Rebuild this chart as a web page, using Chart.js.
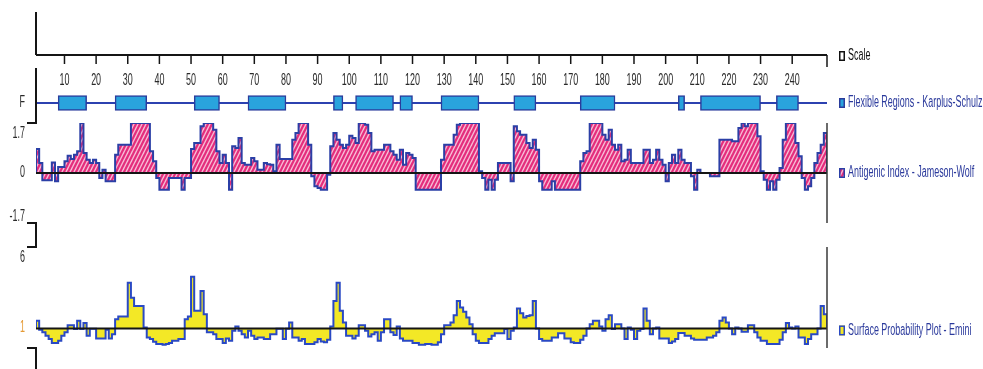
<!DOCTYPE html>
<html>
<head>
<meta charset="utf-8">
<script src="https://cdn.jsdelivr.net/npm/chart.js@4"></script>
<style>
  html, body { margin: 0; padding: 0; background: #ffffff; }
  #wrap { position: relative; width: 983px; height: 369px; overflow: hidden; }
  #wrap canvas { position: absolute; left: 0; top: 0; }
</style>
</head>
<body>
<div id="wrap">
  <canvas id="cScale" width="983" height="369"></canvas>
  <canvas id="cFlex" width="983" height="369"></canvas>
  <canvas id="cAnti" width="983" height="369"></canvas>
  <canvas id="cSurf" width="983" height="369"></canvas>
</div>
<script>
// ---- sequence data -------------------------------------------------------
const SEQ_LENGTH = 250;
const TICK_VALUES = [10, 20, 30, 40, 50, 60, 70, 80, 90, 100, 110, 120,
  130, 140, 150, 160, 170, 180, 190, 200, 210, 220, 230, 240];

// Karplus-Schulz flexible regions (first and last residue of each region)
const FLEX_START = [8, 26, 51, 68, 95, 102, 116, 129, 152, 173, 204, 211, 235];
const FLEX_END   = [16, 35, 58, 79, 97, 113, 119, 140, 158, 183, 205, 229, 241];

// Jameson-Wolf antigenic index, one value per residue
const ANTIGENIC = [
  0.82, 0.34, -0.25, -0.25, -0.25, 0.36, -0.28, 0.20, 0.20, 0.40,
  0.59, 0.48, 0.62, 0.74, 1.70, 0.68, 0.45, 0.34, 0.45, 0.34,
  -0.17, 0.11, -0.28, -0.28, -0.28, 0.62, 0.96, 0.96, 0.96, 0.96,
  1.70, 1.70, 1.70, 1.70, 1.70, 1.70, 0.74, 0.40, -0.17, -0.57,
  -0.57, -0.57, -0.17, -0.17, -0.17, -0.17, -0.57, -0.17, -0.17, 0.82,
  1.02, 1.02, 1.59, 1.70, 1.70, 1.70, 1.47, 0.74, 0.34, 0.62,
  0.34, -0.57, 0.91, 0.85, 1.19, 0.34, 0.28, 0.28, 0.51, 0.40,
  0.11, 0.11, 0.34, 0.30, 0.28, 0.06, 0.96, 0.48, 0.48, 0.48,
  0.48, 1.13, 1.36, 1.70, 1.70, 1.70, 0.96, -0.11, -0.45, -0.51,
  -0.57, -0.57, -0.06, 0.91, 1.36, 1.13, 0.96, 0.85, 0.96, 1.27,
  1.19, 1.02, 1.70, 1.70, 1.64, 1.36, 0.74, 0.79, 0.79, 0.79,
  0.96, 0.96, 0.74, 0.62, 0.45, 0.79, 0.28, 0.68, 0.62, 0.51,
  -0.57, -0.57, -0.57, -0.57, -0.57, -0.57, -0.57, -0.57, 0.45, 0.96,
  0.96, 0.96, 1.30, 1.64, 1.70, 1.70, 1.70, 1.70, 1.70, 1.70,
  0.06, -0.17, -0.57, -0.23, -0.57, -0.23, 0.34, 0.34, 0.34, 0.34,
  -0.28, 1.59, 1.42, 1.30, 1.30, 1.02, 0.85, 1.13, 0.79, -0.28,
  -0.57, -0.57, -0.57, -0.28, -0.57, -0.57, -0.57, -0.57, -0.57, -0.57,
  -0.57, -0.57, 0.40, 0.68, 0.74, 1.70, 1.70, 1.70, 1.70, 1.30,
  1.13, 1.47, 0.96, 0.79, 0.96, 0.40, 0.45, 0.79, 0.34, 0.34,
  0.34, 0.34, 0.79, 0.79, 0.34, 0.45, 0.79, 0.45, 0.28, -0.28,
  0.34, 0.62, 0.34, 0.79, 0.45, 0.34, 0.34, -0.11, -0.57, 0.11,
  0.00, 0.00, 0.00, -0.11, -0.11, -0.11, 1.13, 1.13, 1.13, 1.13,
  1.08, 1.08, 1.53, 1.70, 1.59, 1.70, 1.70, 1.70, 1.25, 0.06,
  -0.23, -0.57, -0.28, -0.57, -0.23, 0.17, 1.13, 1.70, 1.70, 1.70,
  1.02, 0.57, -0.17, -0.57, -0.45, -0.17, 0.34, 0.68, 0.96, 1.36
];

// Emini surface probability, one value per residue (threshold 1)
const SURFACE = [
  1.47, 0.92, 0.76, 0.55, 0.35, 0.11, 0.11, 0.25, 0.55, 0.76,
  1.20, 1.20, 0.96, 1.47, 0.96, 1.33, 0.55, 0.98, 0.98, 0.39,
  0.39, 0.39, 0.92, 0.39, 0.65, 1.57, 1.73, 1.73, 1.73, 3.80,
  2.89, 2.38, 2.38, 2.38, 1.06, 0.45, 0.35, 0.19, 0.04, 0.04,
  0.00, 0.04, 0.11, 0.25, 0.25, 0.35, 0.35, 1.57, 1.73, 4.17,
  2.08, 2.08, 3.30, 1.87, 0.76, 0.76, 0.65, 0.35, 0.35, 0.11,
  0.39, 0.25, 0.86, 1.12, 0.86, 0.65, 0.45, 0.86, 0.55, 0.35,
  0.45, 0.45, 0.35, 0.35, 0.65, 0.65, 0.98, 0.98, 0.35, 0.98,
  1.37, 0.45, 0.45, 0.25, 0.35, 0.04, 0.04, 0.04, 0.15, 0.35,
  0.20, 0.15, 0.30, 1.12, 2.69, 3.80, 2.08, 1.37, 0.55, 0.55,
  0.39, 0.55, 1.20, 1.20, 0.86, 0.51, 0.65, 0.76, 0.25, 0.76,
  1.57, 1.57, 0.76, 0.60, 1.12, 0.39, 0.25, 0.25, 0.25, 0.11,
  0.11, 0.00, 0.00, 0.04, 0.04, 0.00, 0.00, 0.15, 0.65, 1.20,
  1.20, 1.37, 1.81, 2.69, 2.28, 2.02, 1.67, 1.26, 0.65, 0.25,
  0.11, 0.11, 0.11, 0.35, 0.55, 0.70, 0.70, 0.70, 0.96, 0.35,
  0.86, 1.06, 2.22, 1.93, 1.67, 1.77, 1.81, 2.69, 1.00, 0.35,
  0.25, 0.25, 0.25, 0.45, 0.45, 0.70, 0.70, 0.39, 0.39, 0.15,
  0.11, 0.11, 0.30, 0.55, 1.00, 1.26, 1.47, 1.47, 1.12, 0.86,
  1.57, 1.81, 0.96, 1.26, 1.26, 1.00, 0.35, 1.06, 0.92, 0.35,
  0.86, 0.96, 2.22, 1.47, 0.65, 1.00, 1.06, 0.39, 0.39, 0.39,
  0.11, 0.20, 0.35, 0.72, 0.72, 0.55, 0.55, 0.39, 0.30, 0.30,
  0.30, 0.30, 0.45, 0.45, 0.55, 0.76, 1.47, 1.67, 1.37, 1.00,
  0.65, 1.06, 1.00, 0.80, 0.80, 1.20, 1.20, 0.76, 0.45, 0.25,
  0.25, 0.04, 0.04, 0.04, 0.04, 0.30, 0.76, 1.33, 1.06, 1.00,
  1.12, 0.45, 0.45, 0.04, 0.35, 0.65, 0.65, 1.00, 2.38, 1.87
];

const ANTI_RANGE = [-1.7, 1.7];
const SURF_RANGE = [-0.2, 6];
const SURF_THRESHOLD = 1;

// ---- page layout ---------------------------------------------------------
const W = 983, H = 369;
const PLOT_LEFT = 36, PLOT_RIGHT = 827;
const BANDS = {
  scale: { top: 12, bottom: 55 },
  flex:  { top: 95, bottom: 111 },
  anti:  { top: 123, bottom: 223 },
  surf:  { top: 247, bottom: 348 }
};
const FLEX_AXIS_TOP = 68;
const FOOT = 9;             // length of the little bracket feet on the left axis
const LEGEND_X = 839;

const COLORS = {
  axis: '#151515',
  frame: '#3a3a3a',
  label: '#2a2a2a',
  legendText: '#2b3a9c',
  flexFill: '#29a3dd',
  flexEdge: '#2a3c9c',
  track: '#2c41b0',
  antiFill: '#e42d7c',
  antiStripe: '#f7bcd6',
  antiEdge: '#2b3fa6',
  surfFill: '#f3e826',
  surfEdge: '#2a49c4',
  one: '#e59a35'
};

// condensed label text, as in the sequence-analysis printout
const FONT = '16px "Liberation Sans", Arial, sans-serif';
const SQUEEZE = 0.56;

function drawText(ctx, str, x, y, align, color) {
  ctx.save();
  ctx.translate(x, y);
  ctx.scale(SQUEEZE, 1);
  ctx.font = FONT;
  ctx.fillStyle = color;
  ctx.textAlign = align;
  ctx.textBaseline = 'middle';
  ctx.fillText(str, 0, 0);
  ctx.restore();
}

function drawPath(ctx, pts, color, width) {
  ctx.save();
  ctx.strokeStyle = color;
  ctx.lineWidth = width;
  ctx.lineCap = 'butt';
  ctx.beginPath();
  pts.forEach((p, i) => (i ? ctx.lineTo(p[0], p[1]) : ctx.moveTo(p[0], p[1])));
  ctx.stroke();
  ctx.restore();
}

function legendItem(ctx, y, label, fill, edge, textColor) {
  ctx.save();
  ctx.fillStyle = fill;
  ctx.fillRect(LEGEND_X, y - 5, 6, 10);
  ctx.strokeStyle = edge;
  ctx.lineWidth = 1.5;
  ctx.strokeRect(LEGEND_X + 0.75, y - 4.25, 4.5, 8.5);
  ctx.restore();
  drawText(ctx, label, LEGEND_X + 9, y, 'left', textColor);
}

function hatch(bg, stripe) {
  const c = document.createElement('canvas');
  c.width = 4; c.height = 8;
  const g = c.getContext('2d');
  g.fillStyle = bg;
  g.fillRect(0, 0, 4, 8);
  g.strokeStyle = stripe;
  g.lineWidth = 1.4;
  for (let k = -1; k <= 1; k++) {
    g.beginPath();
    g.moveTo(k * 4 - 4, 16);
    g.lineTo(k * 4 + 8, -8);
    g.stroke();
  }
  return g.createPattern(c, 'repeat');
}

// residue profile as a closed step outline: each value covers [n, n+1]
function stepPoints(values, base) {
  const pts = [{ x: 1, y: base }];
  values.forEach((v, i) => pts.push({ x: i + 1, y: v }));
  pts.push({ x: values.length + 1, y: values[values.length - 1] });
  pts.push({ x: values.length + 1, y: base });
  return pts;
}

function baseOptions(band, yRange) {
  return {
    responsive: false,
    animation: false,
    devicePixelRatio: 1,
    events: [],
    layout: { padding: { left: PLOT_LEFT, right: W - PLOT_RIGHT, top: band.top, bottom: H - band.bottom } },
    plugins: { legend: { display: false }, tooltip: { enabled: false } },
    scales: {
      x: { type: 'linear', min: 1, max: SEQ_LENGTH + 1, display: false, offset: false },
      y: { type: 'linear', min: yRange[0], max: yRange[1], display: false, offset: false }
    }
  };
}

// ---- residue scale ---------------------------------------------------------
new Chart(document.getElementById('cScale'), {
  type: 'line',
  data: { datasets: [] },
  options: baseOptions(BANDS.scale, [0, 1]),
  plugins: [{
    id: 'residueScale',
    afterDraw(chart) {
      const ctx = chart.ctx, a = chart.chartArea, x = chart.scales.x;
      drawPath(ctx, [[a.left, a.top], [a.left, a.bottom]], COLORS.axis, 2);
      drawPath(ctx, [[a.left, a.bottom], [a.right, a.bottom]], COLORS.axis, 2);
      TICK_VALUES.forEach(v => {
        const px = x.getPixelForValue(v);
        drawPath(ctx, [[px, a.bottom], [px, a.bottom + 9]], COLORS.axis, 1.5);
        drawText(ctx, String(v), px, a.bottom + 26, 'center', COLORS.label);
      });
      drawPath(ctx, [[a.right, a.bottom], [a.right, a.bottom + 12]], COLORS.axis, 1.5);
      legendItem(ctx, a.bottom + 1, 'Scale', '#ffffff', '#111111', '#111111');
    }
  }]
});

// ---- flexible regions ------------------------------------------------------
new Chart(document.getElementById('cFlex'), {
  type: 'bar',
  data: {
    datasets: [
      {
        type: 'bar',
        indexAxis: 'y',
        xAxisID: 'x', yAxisID: 'y',
        data: FLEX_START.map((s, i) => ({ y: 0.5, x: [s, FLEX_END[i] + 1] })),
        backgroundColor: COLORS.flexFill,
        borderColor: COLORS.flexEdge,
        borderWidth: 1.5,
        borderSkipped: false,
        barThickness: 15,
        order: 0
      },
      {
        type: 'line',
        indexAxis: 'x',
        xAxisID: 'x', yAxisID: 'y',
        data: [{ x: 1, y: 0.5 }, { x: SEQ_LENGTH + 1, y: 0.5 }],
        borderColor: COLORS.track,
        borderWidth: 2,
        pointRadius: 0,
        order: 1
      }
    ]
  },
  options: baseOptions(BANDS.flex, [0, 1]),
  plugins: [{
    id: 'flexFrame',
    afterDraw(chart) {
      const ctx = chart.ctx, a = chart.chartArea, y = chart.scales.y;
      const mid = y.getPixelForValue(0.5);
      const foot = BANDS.anti.top;
      drawPath(ctx, [[a.left, FLEX_AXIS_TOP], [a.left, foot], [a.left - FOOT, foot]], COLORS.axis, 2);
      drawText(ctx, 'F', a.left - 11, mid, 'right', COLORS.label);
      legendItem(ctx, mid, 'Flexible Regions - Karplus-Schulz', COLORS.flexFill, COLORS.flexEdge, COLORS.legendText);
    }
  }]
});

// ---- antigenic index ------------------------------------------------------
const antiCanvas = document.getElementById('cAnti');
const antiPattern = hatch(COLORS.antiFill, COLORS.antiStripe);
new Chart(antiCanvas, {
  type: 'line',
  data: {
    datasets: [{
      data: stepPoints(ANTIGENIC, 0),
      stepped: true,
      fill: 'origin',
      backgroundColor: antiPattern,
      borderColor: COLORS.antiEdge,
      borderWidth: 2,
      pointRadius: 0
    }]
  },
  options: baseOptions(BANDS.anti, ANTI_RANGE),
  plugins: [{
    id: 'antiFrame',
    afterDatasetsDraw(chart) {
      const ctx = chart.ctx, a = chart.chartArea, y = chart.scales.y;
      const zero = y.getPixelForValue(0);
      drawPath(ctx, [[a.left, zero], [a.right, zero]], COLORS.axis, 2);
    },
    afterDraw(chart) {
      const ctx = chart.ctx, a = chart.chartArea, y = chart.scales.y;
      const zero = y.getPixelForValue(0);
      drawPath(ctx, [[a.right, a.top], [a.right, a.bottom]], COLORS.frame, 1.5);
      drawText(ctx, String(ANTI_RANGE[1]), a.left - 11, y.getPixelForValue(ANTI_RANGE[1]) + 11, 'right', COLORS.label);
      drawText(ctx, '0', a.left - 11, zero, 'right', COLORS.label);
      drawText(ctx, String(ANTI_RANGE[0]), a.left - 11, y.getPixelForValue(ANTI_RANGE[0]) - 6, 'right', COLORS.label);
      // bracket joining this track to the surface track below
      drawPath(ctx, [[a.left - FOOT, a.bottom], [a.left, a.bottom], [a.left, BANDS.surf.top], [a.left - FOOT, BANDS.surf.top]], COLORS.axis, 2);
      legendItem(ctx, zero, 'Antigenic Index - Jameson-Wolf', antiPattern, COLORS.antiEdge, COLORS.legendText);
    }
  }]
});

// ---- surface probability ---------------------------------------------------
new Chart(document.getElementById('cSurf'), {
  type: 'line',
  data: {
    datasets: [{
      data: stepPoints(SURFACE, SURF_THRESHOLD),
      stepped: true,
      fill: { value: SURF_THRESHOLD },
      backgroundColor: COLORS.surfFill,
      borderColor: COLORS.surfEdge,
      borderWidth: 2,
      pointRadius: 0
    }]
  },
  options: baseOptions(BANDS.surf, SURF_RANGE),
  plugins: [{
    id: 'surfFrame',
    afterDatasetsDraw(chart) {
      const ctx = chart.ctx, a = chart.chartArea, y = chart.scales.y;
      const base = y.getPixelForValue(SURF_THRESHOLD);
      drawPath(ctx, [[a.left, base], [a.right, base]], COLORS.axis, 2);
    },
    afterDraw(chart) {
      const ctx = chart.ctx, a = chart.chartArea, y = chart.scales.y;
      const base = y.getPixelForValue(SURF_THRESHOLD);
      drawPath(ctx, [[a.right, a.top], [a.right, a.bottom]], COLORS.frame, 1.5);
      drawText(ctx, String(SURF_RANGE[1]), a.left - 11, a.top + 11, 'right', COLORS.label);
      drawText(ctx, String(SURF_THRESHOLD), a.left - 11, base - 1, 'right', COLORS.one);
      drawPath(ctx, [[a.left - FOOT, a.bottom], [a.left, a.bottom], [a.left, H]], COLORS.axis, 2);
      legendItem(ctx, base + 2, 'Surface Probability Plot - Emini', COLORS.surfFill, COLORS.surfEdge, COLORS.legendText);
    }
  }]
});
</script>
</body>
</html>
